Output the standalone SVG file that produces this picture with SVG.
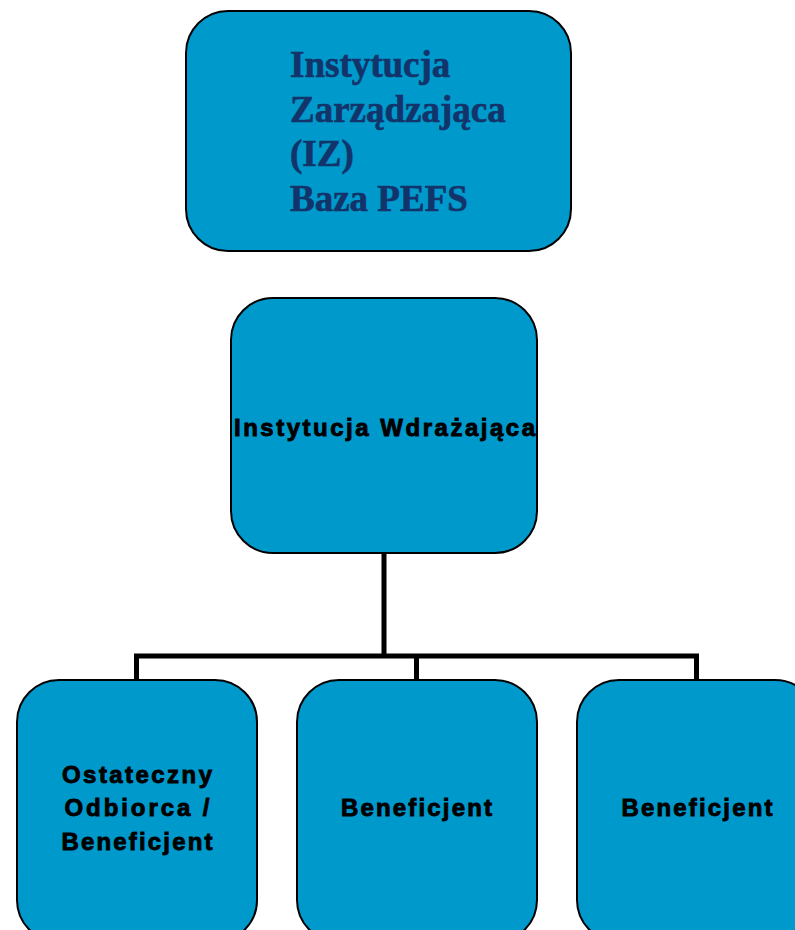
<svg xmlns="http://www.w3.org/2000/svg" width="795" height="930" viewBox="0 0 795 930">
<style>
.box{fill:#0099CC;stroke:#000;stroke-width:2}
.conn{fill:none;stroke:#000;stroke-width:5;stroke-linejoin:miter}
.serif{font-family:"Liberation Serif","Times New Roman",serif;font-weight:bold;font-size:37px;fill:#12346A;stroke:#12346A;stroke-width:0.6}
.sans{font-family:"Liberation Sans",Arial,sans-serif;font-weight:bold;font-size:24px;fill:#000;stroke:#000;stroke-width:0.9}
</style>
<rect width="795" height="930" fill="#fff"/>
<g id="connectors">
<path class="conn" d="M384,553 V656 M136.5,680 V656 H696.5 V680 M416.5,656 V680"/>
</g>
<g id="iz">
<rect class="box" x="186" y="11" width="385" height="240" rx="42"/>
<text class="serif" x="290" y="77">Instytucja</text>
<text class="serif" x="290" y="122">Zarządzająca</text>
<text class="serif" x="290" y="166">(IZ)</text>
<text class="serif" x="290" y="211">Baza PEFS</text>
</g>
<g id="iw">
<rect class="box" x="231" y="298" width="306" height="255" rx="42"/>
<text class="sans" x="234" y="436" textLength="301" lengthAdjust="spacing">Instytucja Wdrażająca</text>
</g>
<g id="ob">
<rect class="box" x="17" y="680" width="240" height="262" rx="42"/>
<text class="sans" x="137" y="783" text-anchor="middle" textLength="150" lengthAdjust="spacing">Ostateczny</text>
<text class="sans" x="137" y="816" text-anchor="middle" textLength="145" lengthAdjust="spacing">Odbiorca /</text>
<text class="sans" x="137" y="850" text-anchor="middle" textLength="151" lengthAdjust="spacing">Beneficjent</text>
</g>
<g id="b1">
<rect class="box" x="297" y="680" width="240" height="262" rx="42"/>
<text class="sans" x="416.5" y="816" text-anchor="middle" textLength="151" lengthAdjust="spacing">Beneficjent</text>
</g>
<g id="b2">
<rect class="box" x="577" y="680" width="240" height="262" rx="42"/>
<text class="sans" x="697" y="816" text-anchor="middle" textLength="151" lengthAdjust="spacing">Beneficjent</text>
</g>
</svg>
